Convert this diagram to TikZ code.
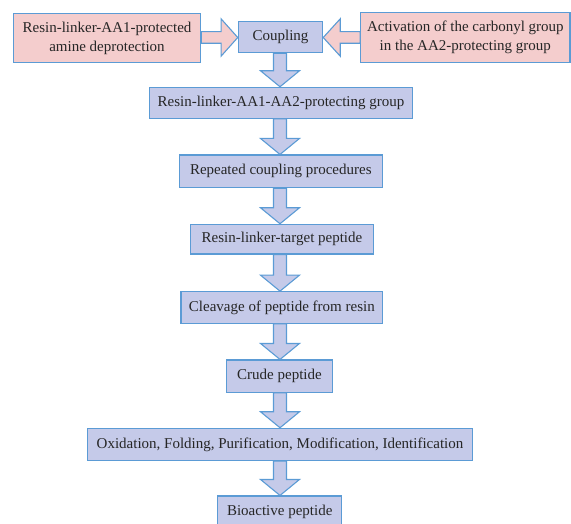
\documentclass[tikz,border=0pt]{standalone}
\usepackage{fontspec}
\setmainfont{Liberation Serif}
\usetikzlibrary{calc}
\definecolor{bfill}{RGB}{197,202,233}
\definecolor{pfill}{RGB}{244,205,205}
\definecolor{bline}{RGB}{91,155,213}
\tikzset{
 box/.style={draw=bline, line width=1.1pt, fill=bfill, inner sep=0pt, align=center,
   font=\fontsize{15}{19}\selectfont, anchor=center, text=black!85},
 pbox/.style={box, fill=pfill},
 barrow/.style={draw=bline, line width=1.1pt, fill=bfill, line join=miter},
 parrow/.style={barrow, fill=pfill},
}
\newcommand\varr[2]{%
 \draw[barrow] let \p1=(#1.south), \p2=(#2.north) in
  (273.5pt,\y1) -- (273.5pt,\y2+16pt) -- (260.5pt,\y2+16pt) -- (280pt,\y2)
  -- (299.5pt,\y2+16pt) -- (286.5pt,\y2+16pt) -- (286.5pt,\y1) -- cycle;}
\begin{document}
\begin{tikzpicture}[x=1pt,y=-1pt]
\useasboundingbox (0,0) rectangle (571,524);
\node[pbox, minimum width=187.4pt, minimum height=49.4pt] (L) at (107,38) {Resin-linker-AA1-protected\\amine deprotection};
\node[box, minimum width=84.4pt, minimum height=31pt] (C) at (280.5,37.2) {Coupling};
\node[pbox, minimum width=209.3pt, minimum height=50pt] (R) at (465.35,37.5) {Activation of the carbonyl group\\in the AA2-protecting group};
\node[box, minimum width=263.4pt, minimum height=31pt] (B2) at (281,102.8) {Resin-linker-AA1-AA2-protecting group};
\node[box, minimum width=203pt, minimum height=32.7pt] (B3) at (280.8,171.35) {Repeated coupling procedures};
\node[box, minimum width=182.6pt, minimum height=29.7pt] (B4) at (282,239.15) {Resin-linker-target peptide};
\node[box, minimum width=201.7pt, minimum height=31.6pt] (B5) at (281.85,307.5) {Cleavage of peptide from resin};
\node[box, minimum width=105.6pt, minimum height=32.3pt] (B6) at (279.5,376.15) {Crude peptide};
\node[box, minimum width=385.4pt, minimum height=32.2pt] (B7) at (280,444.4) {Oxidation, Folding, Purification, Modification, Identification};
\node[box, minimum width=124pt, minimum height=32pt] (B8) at (279.7,512) {Bioactive peptide};
\draw[parrow] let \p1=(L.east), \p2=(C.west) in
  (\x1,-31.7pt) -- (\x2-16.7pt,-31.7pt) -- (\x2-16.7pt,-18.8pt) -- (\x2,-37.5pt)
  -- (\x2-16.7pt,-56.2pt) -- (\x2-16.7pt,-43.3pt) -- (\x1,-43.3pt) -- cycle;
\draw[parrow] let \p1=(R.west), \p2=(C.east) in
  (\x1,-31.7pt) -- (\x2+17pt,-31.7pt) -- (\x2+17pt,-18.8pt) -- (\x2,-37.5pt)
  -- (\x2+17pt,-56.2pt) -- (\x2+17pt,-43.3pt) -- (\x1,-43.3pt) -- cycle;
\varr{C}{B2}
\varr{B2}{B3}
\varr{B3}{B4}
\varr{B4}{B5}
\varr{B5}{B6}
\varr{B6}{B7}
\varr{B7}{B8}
\end{tikzpicture}
\end{document}
